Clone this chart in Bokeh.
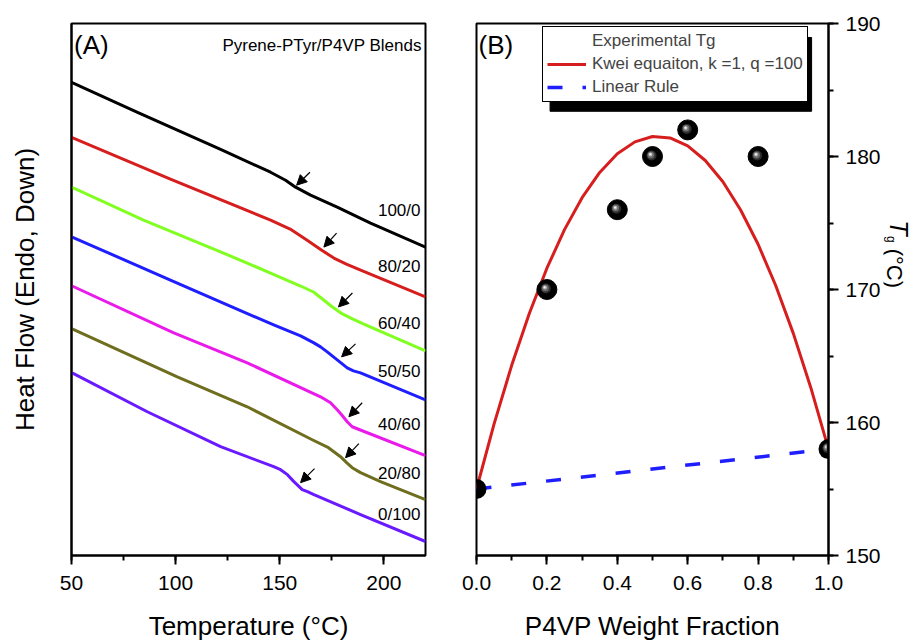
import math
from bokeh.plotting import figure
from bokeh.layouts import row
from bokeh.models import (Range1d, SingleIntervalTicker, FixedTicker, PrintfTickFormatter,
                          Arrow, NormalHead, ColumnDataSource, Label, Legend, LegendItem,
                          BoxAnnotation)
from bokeh.core.properties import value
from bokeh.embed import file_html
from bokeh.resources import INLINE

FONT = "Liberation Sans"

# ---------------- Panel A data (DSC traces, arbitrary heat-flow units) ----------------
blend_names = ["100/0", "80/20", "60/40", "50/50", "40/60", "20/80", "0/100"]
blend_colors = ["#000000", "#d71e1e", "#80ff20", "#1e1eff", "#ea1aea", "#6e6e1e", "#6a1aff"]

t_100_0 = [50, 81.7, 121.6, 145.6, 152.8, 157.6, 164.8, 177.6, 193.6, 220]
h_100_0 = [47.4, 44.4, 40.7, 38.4, 37.6, 36.9, 36.1, 34.9, 33.3, 30.9]

t_80_20 = [50, 97.5, 145.6, 155.0, 163.0, 170.0, 176.0, 182.0, 190.0, 220]
h_80_20 = [41.9, 37.7, 33.6, 32.7, 31.6, 30.6, 29.8, 29.2, 28.5, 25.9]

t_60_40 = [50, 84.6, 123.0, 145.6, 160.0, 166.2, 170.5, 175.3, 180.1, 184.9, 191.2, 220]
h_60_40 = [36.9, 33.6, 30.3, 28.3, 27.0, 26.4, 25.7, 24.9, 24.2, 23.7, 23.1, 20.5]

t_50_50 = [50.3, 97.5, 124.8, 147.1, 160.0, 166.4, 169.6, 172.8, 177.6, 182.4, 185.4, 188.8, 220]
h_50_50 = [31.9, 27.6, 25.1, 23.1, 22.0, 21.3, 20.9, 20.4, 19.6, 18.8, 18.5, 18.3, 15.6]

t_40_60 = [50.3, 99.1, 134.4, 169.6, 174.4, 177.6, 180.1, 182.4, 184.8, 187.2, 220]
h_40_60 = [27.0, 22.3, 19.3, 15.9, 15.3, 14.6, 14.0, 13.4, 12.9, 12.7, 10.0]

t_20_80 = [50.3, 100.8, 134.4, 165.6, 173.4, 179.2, 182.1, 184.8, 188.8, 198.4, 220]
h_20_80 = [22.7, 17.9, 14.9, 11.6, 10.8, 9.9, 9.3, 8.8, 8.3, 7.4, 5.6]

t_0_100 = [50.3, 86.4, 121.6, 147.1, 150.4, 153.7, 156.8, 158.8, 160.8, 163.3, 166.4, 188.8, 220]
h_0_100 = [18.3, 14.4, 10.9, 8.9, 8.6, 8.1, 7.4, 7.0, 6.6, 6.4, 6.1, 4.1, 1.4]

# Tg arrows (tail -> head), per blend
arrow_t0 = [164.5, 177.3, 184.9, 186.4, 189.6, 188.0, 166.7]
arrow_h0 = [38.4, 32.3, 26.3, 21.2, 15.3, 11.2, 8.7]
arrow_t1 = [158.1, 171.2, 178.2, 179.7, 183.2, 181.6, 160.0]
arrow_h1 = [37.1, 30.9, 24.9, 19.9, 13.9, 9.8, 7.3]

# blend label anchor (right aligned)
label_t = 217.6
label_h = [34.6, 29.0, 23.2, 18.4, 13.1, 8.2, 4.1]

# ---------------- Panel B data ----------------
wf_exp = [0.0, 0.2, 0.4, 0.5, 0.6, 0.8, 1.0]
tg_exp = [155, 170, 176, 180, 182, 180, 158]

wf_kwei = [0.0, 0.05, 0.1, 0.15, 0.2, 0.25, 0.3, 0.35, 0.4, 0.45, 0.5,
           0.55, 0.6, 0.65, 0.7, 0.75, 0.8, 0.85, 0.9, 0.95, 1.0]
tg_kwei = [155.0, 159.9, 164.3, 168.2, 171.6, 174.5, 176.9, 178.8, 180.2, 181.1, 181.5,
           181.4, 180.8, 179.7, 178.1, 176.0, 173.4, 170.3, 166.7, 162.6, 158.0]

wf_lin = [0.0, 1.0]
tg_lin = [155, 158]


def style_axes(p):
    p.xgrid.visible = False
    p.ygrid.visible = False
    p.outline_line_color = "black"
    p.outline_line_width = 2
    p.outline_line_alpha = 1
    p.background_fill_color = "white"
    p.border_fill_color = "white"
    for ax in p.axis:
        ax.axis_line_width = 2
        ax.axis_line_color = "black"
        ax.major_tick_line_width = 2
        ax.minor_tick_line_width = 2
        ax.major_tick_in = 0
        ax.major_tick_out = 9
        ax.minor_tick_in = 0
        ax.minor_tick_out = 5
        ax.major_label_text_font = FONT
        ax.major_label_text_font_size = "21px"
        ax.major_label_text_color = "black"
        ax.axis_label_text_font = FONT
        ax.axis_label_text_font_size = "26px"
        ax.axis_label_text_font_style = "normal"
        ax.axis_label_text_color = "black"
        ax.major_label_standoff = 11
        ax.axis_label_standoff = 18


# ---------------- Panel A ----------------
p1 = figure(width=450, height=643, x_range=Range1d(50, 220), y_range=Range1d(0, 53.3),
            output_backend="svg", toolbar_location=None,
            min_border_left=71, min_border_right=25, min_border_top=23, min_border_bottom=87)
style_axes(p1)
p1.xaxis.ticker = SingleIntervalTicker(interval=50, num_minor_ticks=2)
p1.xaxis.axis_label = "Temperature (°C)"
p1.yaxis.ticker = FixedTicker(ticks=[])
p1.yaxis.major_tick_out = 0
p1.yaxis.minor_tick_out = 0
p1.yaxis.axis_label = "Heat Flow (Endo, Down)"
p1.yaxis.axis_label_standoff = 32

traces = [(t_100_0, h_100_0), (t_80_20, h_80_20), (t_60_40, h_60_40), (t_50_50, h_50_50),
          (t_40_60, h_40_60), (t_20_80, h_20_80), (t_0_100, h_0_100)]
for (tx, hy), col in zip(traces, blend_colors):
    p1.line(tx, hy, line_color=col, line_width=3, line_join="round")

arr_src = ColumnDataSource(dict(x0=arrow_t0, y0=arrow_h0, x1=arrow_t1, y1=arrow_h1))
p1.add_layout(Arrow(end=NormalHead(size=10, fill_color="black", line_color="black", line_width=1),
                    x_start="x0", y_start="y0", x_end="x1", y_end="y1", source=arr_src,
                    line_color="black", line_width=1.2))

p1.text(x=[label_t] * len(blend_names), y=label_h, text=blend_names,
        text_font=value(FONT), text_font_size="17px", text_align="right",
        text_baseline="middle", text_color="black")

p1.add_layout(Label(x=51.2, y=51.1, text="(A)", text_font=FONT, text_font_size="26px",
                    text_align="left", text_baseline="middle", text_color="black"))
p1.add_layout(Label(x=218.2, y=51.1, text="Pyrene-PTyr/P4VP Blends", text_font=FONT,
                    text_font_size="17px", text_align="right", text_baseline="middle",
                    text_color="black"))

# ---------------- Panel B ----------------
p2 = figure(width=433, height=643, x_range=Range1d(0, 1), y_range=Range1d(150, 190),
            y_axis_location="right", output_backend="svg", toolbar_location=None,
            min_border_left=26, min_border_right=53, min_border_top=23, min_border_bottom=87)
style_axes(p2)
p2.xaxis.ticker = SingleIntervalTicker(interval=0.2, num_minor_ticks=2)
p2.xaxis.formatter = PrintfTickFormatter(format="%.1f")
p2.xaxis.axis_label = "P4VP Weight Fraction"
p2.yaxis.ticker = SingleIntervalTicker(interval=10, num_minor_ticks=2)
p2.yaxis.major_tick_out = 10
p2.yaxis.major_label_standoff = 7

# legend shadow (behind legend box)
p2.add_layout(BoxAnnotation(left=0.209, right=0.952, top=188.95, bottom=183.40,
                            fill_color="black", fill_alpha=1, line_color="black",
                            line_alpha=1, level="annotation"))

kwei = p2.line(wf_kwei, tg_kwei, line_color="#d71e1e", line_width=3)
lin = p2.line(wf_lin, tg_lin, line_color="#1e1eff", line_width=3.5, line_dash="15 20")

x_lo, x_hi = p2.x_range.start, p2.x_range.end
px_x = 1.0 / 354.0
px_y = 40.0 / 533.0
shades = [(10, "#2e2e2e", 1.0), (7, "#6a6a6a", 1.6), (4, "#b4b4b4", 2.0), (2, "#f4f4f4", 2.2)]


def sphere(xs, ys, size, level="glyph"):
    p2.scatter(xs, ys, size=size, fill_color="black", line_color="black", level=level)
    f = size / 20.0
    for sz, col, k in shades:
        p2.scatter([x - k * f * px_x for x in xs], [y + k * f * px_y for y in ys],
                   size=sz * f, fill_color=col, line_color=None, level=level)


# points inside the frame: full spheres
inner_x = [w for w in wf_exp if x_lo < w < x_hi]
inner_y = [t for w, t in zip(wf_exp, tg_exp) if x_lo < w < x_hi]
sphere(inner_x, inner_y, 20)

# points on the frame edges: only the half inside the frame is shown
lo_x = [w for w in wf_exp if w <= x_lo]
lo_y = [t for w, t in zip(wf_exp, tg_exp) if w <= x_lo]
hi_x = [w for w in wf_exp if w >= x_hi]
hi_y = [t for w, t in zip(wf_exp, tg_exp) if w >= x_hi]
p2.wedge(lo_x, lo_y, radius=10, radius_units="screen", start_angle=-math.pi / 2,
         end_angle=math.pi / 2, fill_color="black", line_color=None)
p2.wedge(hi_x, hi_y, radius=10, radius_units="screen", start_angle=math.pi / 2,
         end_angle=3 * math.pi / 2, fill_color="black", line_color=None)
for sz, col, k in shades:
    p2.wedge([x - k * px_x for x in hi_x], [y + k * px_y for y in hi_y], radius=sz / 2.0,
             radius_units="screen", start_angle=math.pi / 2, end_angle=3 * math.pi / 2,
             fill_color=col, line_color=None)

# legend (sphere key drawn on top of the legend box)
key_dummy = p2.scatter([], [], size=1, fill_alpha=0, line_alpha=0)
legend = Legend(items=[LegendItem(label="Experimental Tg", renderers=[key_dummy]),
                       LegendItem(label="Kwei equaiton, k =1, q =100", renderers=[kwei]),
                       LegendItem(label="Linear Rule", renderers=[lin])],
                location=(66, 453), orientation="vertical",
                label_text_font=FONT, label_text_font_size="17px",
                glyph_width=39, glyph_height=20, label_height=20, label_standoff=6,
                spacing=3, padding=4, margin=0,
                border_line_color="black", border_line_width=1, border_line_alpha=1,
                background_fill_color="white", background_fill_alpha=1)
p2.add_layout(legend, "center")
sphere([0.2768], [188.5], 18, level="overlay")

p2.add_layout(Label(x=0.006, y=188.35, text="(B)", text_font=FONT, text_font_size="26px",
                    text_align="left", text_baseline="middle", text_color="black"))

# ---------------- strip for the right-hand axis title: T_g (°C) ----------------
# coordinates of this strip are its own pixels (x from its left edge, y from the top)
p3 = figure(width=38, height=643, x_range=Range1d(0, 38), y_range=Range1d(643, 0),
            x_axis_location=None, y_axis_location=None, output_backend="svg",
            toolbar_location=None, min_border=0)
p3.outline_line_color = None
p3.grid.visible = False
p3.background_fill_color = "white"
p3.border_fill_color = "white"
p3.add_layout(Label(x=15, y=247, text="T", text_font=FONT, text_font_size="25px",
                    text_font_style="italic", angle=-math.pi / 2, text_align="center",
                    text_baseline="alphabetic", text_color="black"))
p3.add_layout(Label(x=7, y=261, text="g", text_font=FONT, text_font_size="12px",
                    angle=-math.pi / 2, text_align="center", text_baseline="middle",
                    text_color="black"))
p3.add_layout(Label(x=11, y=296, text="(°C)", text_font=FONT, text_font_size="22px",
                    angle=-math.pi / 2, text_align="center", text_baseline="alphabetic",
                    text_color="black"))

layout = row(p1, p2, p3)
open("out.html", "w").write(file_html(layout, INLINE))
